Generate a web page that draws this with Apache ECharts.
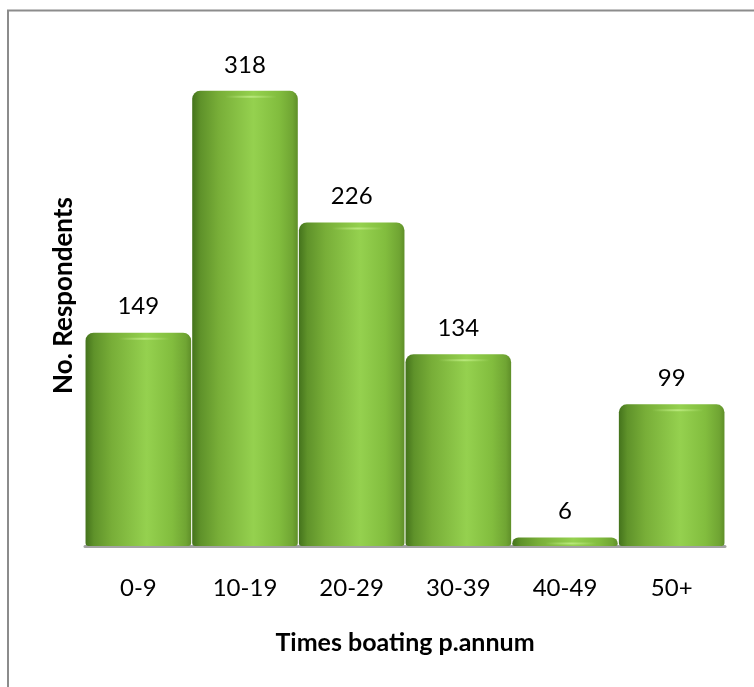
<!DOCTYPE html>
<html>
<head>
<meta charset="utf-8">
<script src="https://cdn.jsdelivr.net/npm/echarts@6/dist/echarts.min.js"></script>
<style>
  html, body { margin: 0; padding: 0; background: #fff; }
  #chart { width: 754px; height: 687px; }
</style>
</head>
<body>
<div id="chart"></div>
<script>
// Boating frequency survey
const categories = ['0-9', '10-19', '20-29', '30-39', '40-49', '50+'];
const respondents = [149, 318, 226, 134, 6, 99];
const xTitle = 'Times boating p.annum';
const yTitle = 'No. Respondents';

const chart = echarts.init(document.getElementById('chart'));

// cylinder-like shading across each bar
const barFill = new echarts.graphic.LinearGradient(0, 0, 1, 0, [
  { offset: 0.00, color: '#44731c' },
  { offset: 0.08, color: '#5f922a' },
  { offset: 0.25, color: '#78ae38' },
  { offset: 0.58, color: '#95d14f' },
  { offset: 0.82, color: '#82bd3e' },
  { offset: 0.95, color: '#70a533' },
  { offset: 1.00, color: '#5f8f29' }
]);

// soft rim highlight near the top of each cylinder
const rimFill = new echarts.graphic.LinearGradient(0, 0, 1, 0, [
  { offset: 0.0, color: 'rgba(190,235,130,0)' },
  { offset: 0.5, color: 'rgba(190,235,130,0.85)' },
  { offset: 1.0, color: 'rgba(190,235,130,0)' }
]);

const font = 'Lato, "Open Sans", sans-serif';

chart.setOption({
  animation: false,
  backgroundColor: '#ffffff',
  graphic: [{
    type: 'rect',
    shape: { x: 8, y: 10.5, width: 900, height: 900 },
    style: { fill: 'none', stroke: '#8c8c8c', lineWidth: 2 },
    silent: true,
    z: 0
  }],
  grid: { left: 85, right: 29, top: 45, bottom: 141 },
  xAxis: {
    type: 'category',
    data: categories,
    name: xTitle,
    nameLocation: 'middle',
    nameGap: 84,
    nameTextStyle: { fontFamily: font, fontWeight: 'bold', fontSize: 25, color: '#000' },
    axisLine: { show: true, lineStyle: { color: '#a3a3a3', width: 3 } },
    axisTick: { show: false },
    axisLabel: { margin: 30, fontFamily: font, fontSize: 24, color: '#000' }
  },
  yAxis: {
    type: 'value',
    min: 0,
    max: 350,
    name: yTitle,
    nameLocation: 'middle',
    nameRotate: 90,
    nameGap: 8,
    nameTextStyle: { fontFamily: font, fontWeight: 'bold', fontSize: 26, color: '#000' },
    axisLine: { show: false },
    axisTick: { show: false },
    axisLabel: { show: false },
    splitLine: { show: false }
  },
  series: [{
    type: 'bar',
    data: respondents,
    barCategoryGap: '1%',
    itemStyle: { color: barFill, borderRadius: [8, 8, 3, 3] },
    label: {
      show: true,
      position: 'top',
      distance: 14,
      fontFamily: font,
      fontSize: 24,
      color: '#000'
    },
    z: 2
  }, {
    type: 'pictorialBar',
    data: respondents,
    symbol: 'rect',
    symbolPosition: 'end',
    symbolSize: ['70%', 2],
    symbolOffset: [6, 5],
    itemStyle: { color: rimFill },
    silent: true,
    z: 3
  }]
});
</script>
</body>
</html>
